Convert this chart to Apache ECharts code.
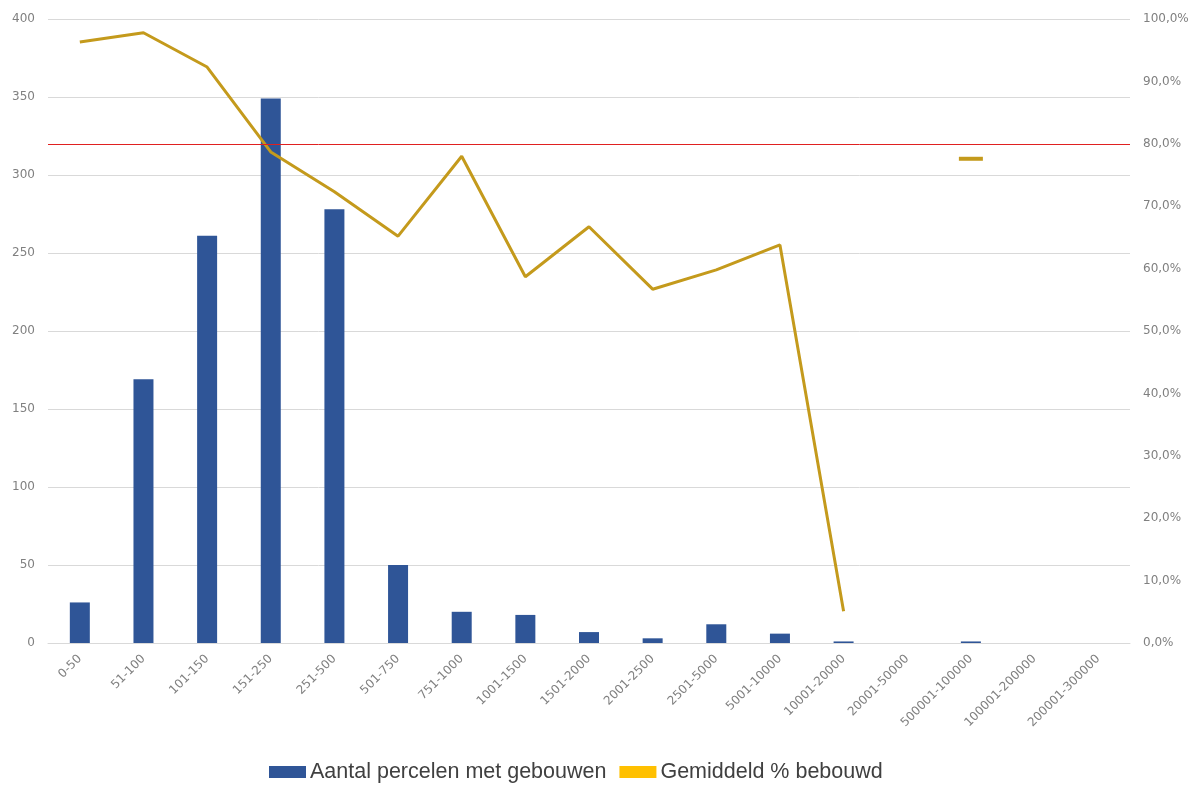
<!DOCTYPE html>
<html>
<head>
<meta charset="utf-8">
<title>Percelen met gebouwen</title>
<script src="https://cdn.jsdelivr.net/npm/echarts@6/dist/echarts.min.js"></script>
<style>
  html, body { margin: 0; padding: 0; background: #fff; }
  #chart { width: 1195px; height: 785px; }
</style>
</head>
<body>
<div id="chart"></div>
<script>
// categorieën (perceeloppervlakte)
const categories = [
  "0-50", "51-100", "101-150", "151-250", "251-500", "501-750", "751-1000",
  "1001-1500", "1501-2000", "2001-2500", "2501-5000", "5001-10000",
  "10001-20000", "20001-50000", "500001-100000", "100001-200000", "200001-300000"
];

// aantal percelen met gebouwen (linker as)
const aantalPercelen = [26, 169, 261, 349, 278, 50, 20, 18, 7, 3, 12, 6, 1, 0, 1, 0, 0];

// gemiddeld % bebouwd (rechter as), null = geen waarde
const gemiddeldBebouwd = [
  96.3, 97.8, 92.3, 78.7, 72.3, 65.2, 78.0, 58.7, 66.7, 56.7, 59.8, 63.8,
  5.1, null, 77.6, null, null
];

// rode referentielijn
const drempel = 80;

const lineColor = "#C49A1C";
const axisFont = "DejaVu Sans, sans-serif";

const chart = echarts.init(document.getElementById("chart"));

const lineData = gemiddeldBebouwd.map((v, i) => {
  const prev = i > 0 ? gemiddeldBebouwd[i - 1] : null;
  const next = i < gemiddeldBebouwd.length - 1 ? gemiddeldBebouwd[i + 1] : null;
  // losse punten als kort streepje tonen
  if (v != null && prev == null && next == null) {
    return {
      value: v,
      symbol: "rect",
      symbolSize: [24, 4],
      itemStyle: { color: lineColor },
    };
  }
  return v;
});

const option = {
  backgroundColor: "#fff",
  animation: false,
  grid: { left: 48, right: 65, top: 19, bottom: 142 },
  legend: {
    top: 756,
    left: 264,
    itemWidth: 37,
    itemHeight: 12,
    itemGap: 13,
    textStyle: { fontFamily: "Liberation Sans, Arial, sans-serif", fontSize: 21.5, color: "#404040", padding: [0, 0, 0, -1] },
    data: [
      { name: "Aantal percelen met gebouwen", icon: "rect" },
      { name: "Gemiddeld % bebouwd", icon: "rect", itemStyle: { color: "#FFC000" } },
    ],
  },
  xAxis: {
    type: "category",
    data: categories,
    axisLine: { lineStyle: { color: "#d9d9d9" } },
    axisTick: { show: false },
    axisLabel: { rotate: 45, interval: 0, color: "#808080", fontFamily: axisFont, fontSize: 12, margin: 14 },
  },
  yAxis: [
    {
      type: "value",
      min: 0,
      max: 400,
      interval: 50,
      axisLine: { show: false },
      axisTick: { show: false },
      axisLabel: { color: "#808080", fontFamily: axisFont, fontSize: 12, margin: 13 },
      splitLine: { lineStyle: { color: "#d9d9d9" } },
    },
    {
      type: "value",
      min: 0,
      max: 100,
      interval: 10,
      axisLine: { show: false },
      axisTick: { show: false },
      splitLine: { show: false },
      axisLabel: {
        color: "#808080",
        fontFamily: axisFont,
        fontSize: 12,
        margin: 13,
        formatter: (v) => v.toFixed(1).replace(".", ",") + "%",
      },
    },
  ],
  series: [
    {
      name: "Aantal percelen met gebouwen",
      type: "bar",
      data: aantalPercelen,
      barWidth: 20,
      itemStyle: { color: "#2F5597" },
    },
    {
      name: "Gemiddeld % bebouwd",
      type: "line",
      yAxisIndex: 1,
      data: lineData,
      symbol: "none",
      showSymbol: true,
      connectNulls: false,
      itemStyle: { color: "#FFC000" },
      lineStyle: { color: lineColor, width: 3 },
      markLine: {
        silent: true,
        symbol: "none",
        label: { show: false },
        lineStyle: { color: "#E02020", width: 1, type: "solid" },
        data: [{ yAxis: drempel }],
      },
    },
  ],
};

chart.setOption(option);
</script>
</body>
</html>
